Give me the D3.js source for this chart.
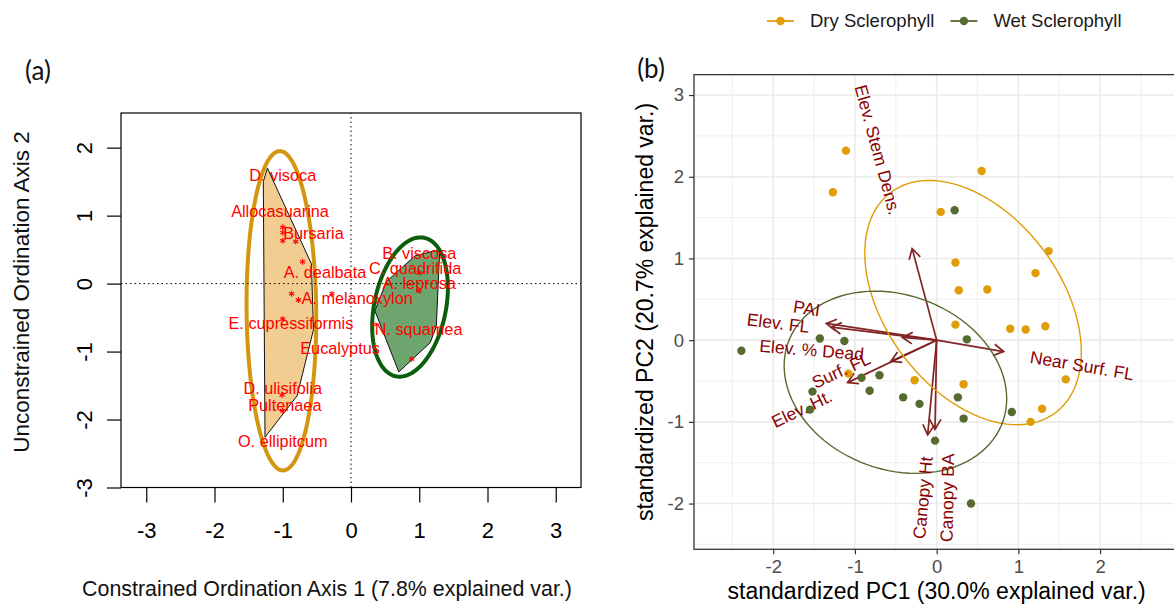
<!DOCTYPE html>
<html>
<head>
<meta charset="utf-8">
<script src="https://cdn.jsdelivr.net/npm/d3@7"></script>
<style>
  body { margin: 0; background: #fff; }
  svg { display: block; }
</style>
</head>
<body>
<script>
// ---------- panel (a): constrained ordination ----------
const speciesLabels = [
  ["D. visoca", -1.0, 1.59],
  ["Allocasuarina", -1.04, 1.07],
  ["Bursaria", -0.55, 0.74],
  ["A. dealbata", -0.38, 0.17],
  ["A. melanoxylon", 0.09, -0.21],
  ["E. cupressiformis", -0.88, -0.58],
  ["Eucalyptus", -0.16, -0.95],
  ["D. ulisifolia", -1.0, -1.54],
  ["Pultenaea", -0.97, -1.79],
  ["O. ellipitcum", -1.0, -2.32],
  ["B. viscosa", 1.0, 0.44],
  ["C. quadrifida", 0.94, 0.22],
  ["A. leprosa", 1.0, 0.0],
  ["N. squamea", 0.99, -0.67]
];
const speciesStars = [
  [-1.0, 0.83], [-1.0, 0.75], [-1.0, 0.63], [-0.81, 0.62], [-0.71, 0.32],
  [-0.87, -0.15], [-0.77, -0.24], [-0.28, -0.15], [-1.0, -0.52],
  [-1.01, -1.64], [-1.0, -1.87],
  [1.0, 0.16], [1.0, -0.11], [0.33, -0.6], [0.89, -1.11]
];
const dryHull = [[-1.225, 1.70], [-0.58, 0.29], [-0.55, -0.68], [-0.79, -1.65], [-1.26, -2.26], [-1.285, 1.50]];
const wetHull = [[0.52, 0.03], [0.94, 0.41], [1.30, 0.50], [1.25, -0.63], [1.16, -0.87], [0.70, -1.30], [0.35, -0.40]];
const ordEllipseCentre = [[-1.02, -0.40], [0.865, -0.345]];
const ordEllipseRadii = [[2.35, 0.51], [1.04, 0.525]];   // semi-major, semi-minor
const ordEllipseTilt = [-0.6, 11.5];                      // degrees from vertical
const ordTicks = [-3, -2, -1, 0, 1, 2, 3];

// ---------- panel (b): PCA biplot ----------
const groups = ["Dry Sclerophyll", "Wet Sclerophyll"];
const dryPC = [
  [-1.11, 2.32], [-1.27, 1.81], [0.55, 2.07], [0.05, 1.57], [1.37, 1.09],
  [0.23, 0.95], [1.21, 0.82], [0.27, 0.61], [0.62, 0.62], [0.23, 0.19],
  [0.90, 0.14], [1.09, 0.13], [1.33, 0.17], [1.58, -0.48], [-1.08, -0.41],
  [-0.27, -0.49], [0.33, -0.54], [1.29, -0.84], [1.15, -1.0]
];
const wetPC = [
  [0.22, 1.59], [-2.39, -0.13], [-1.43, 0.02], [-1.13, -0.01], [0.37, 0.01],
  [-0.92, -0.46], [-0.70, -0.43], [-0.82, -0.62], [-1.52, -0.63], [-1.55, -0.85],
  [-0.41, -0.70], [-0.21, -0.78], [0.26, -0.70], [0.33, -0.96], [0.92, -0.88],
  [-0.02, -1.23], [0.42, -2.0]
];
const varNames = ["Elev. Stem Dens.", "PAI", "Elev. FL", "Elev. % Dead", "Surf. FL",
  "Elev. Ht.", "Near Surf. FL", "Canopy Ht", "Canopy BA"];
const varLoadings = [
  [-0.30, 1.12], [-1.35, 0.205], [-1.29, 0.16], [-0.42, 0.035], [-0.56, -0.26],
  [-1.09, -0.52], [0.82, -0.14], [-0.11, -1.16], [-0.02, -1.09]
];
// where each variable name sits (label centre, PC units)
const varLabelAt = [
  [-0.72, 2.33], [-1.59, 0.39], [-1.94, 0.21], [-1.53, -0.12], [-1.17, -0.37],
  [-1.65, -0.84], [1.78, -0.31], [-0.17, -1.93], [0.13, -1.93]
];
const pcTicksX = [-2, -1, 0, 1, 2];
const pcTicksY = [-2, -1, 0, 1, 2, 3];

// ---------- styles ----------
const groupColour = ["#E19D07", "#556B2F"];
const sans = "'Liberation Sans', Arial, sans-serif";

const svg = d3.select("body").append("svg")
  .attr("width", 1174).attr("height", 606)
  .style("font-family", sans);

// ================= (a) =================
const xA = d3.scaleLinear().domain([-3.37, 3.37]).range([121, 581]);
const yA = d3.scaleLinear().domain([-3, 2.51]).range([487.5, 113]);
const lineA = d3.line().x(d => xA(d[0])).y(d => yA(d[1]));

function tiltedEllipse(c, r, tilt, n = 160) {
  const p = tilt * Math.PI / 180;
  const u = [Math.sin(p), Math.cos(p)], v = [Math.cos(p), -Math.sin(p)];
  return d3.range(n + 1).map(i => {
    const t = 2 * Math.PI * i / n;
    return [c[0] + r[0] * Math.cos(t) * u[0] + r[1] * Math.sin(t) * v[0],
            c[1] + r[0] * Math.cos(t) * u[1] + r[1] * Math.sin(t) * v[1]];
  });
}

const a = svg.append("g");

a.append("path").datum(dryHull)
  .attr("d", d => lineA(d) + "Z")
  .attr("fill", "#F2CD91").attr("stroke", "#111").attr("stroke-width", 1);
a.append("path").datum(wetHull)
  .attr("d", d => lineA(d) + "Z")
  .attr("fill", "#6EA56E").attr("stroke", "#111").attr("stroke-width", 1);

a.selectAll(".ord-ell")
  .data(ordEllipseCentre)
  .join("path")
    .attr("class", "ord-ell")
    .attr("d", (c, i) => lineA(tiltedEllipse(c, ordEllipseRadii[i], ordEllipseTilt[i])))
    .attr("fill", "none")
    .attr("stroke", (d, i) => ["#D4950F", "#0B5E0B"][i])
    .attr("stroke-width", 4);

// dotted zero lines
a.append("line")
  .attr("x1", xA(0)).attr("x2", xA(0)).attr("y1", yA(-3)).attr("y2", yA(2.51))
  .attr("stroke", "#000").attr("stroke-width", 1).attr("stroke-dasharray", "1.5,3");
a.append("line")
  .attr("x1", xA(-3.37)).attr("x2", xA(3.37)).attr("y1", yA(0)).attr("y2", yA(0))
  .attr("stroke", "#000").attr("stroke-width", 1).attr("stroke-dasharray", "1.5,3");

// species asterisks
const star = a.selectAll(".star")
  .data(speciesStars)
  .join("g")
    .attr("class", "star")
    .attr("transform", d => `translate(${xA(d[0])},${yA(d[1])})`);
[90, 30, 150].forEach(ang => {
  const r = ang * Math.PI / 180;
  star.append("line")
    .attr("x1", -3 * Math.cos(r)).attr("y1", -3 * Math.sin(r))
    .attr("x2", 3 * Math.cos(r)).attr("y2", 3 * Math.sin(r))
    .attr("stroke", "#FF0000").attr("stroke-width", 1.1);
});

a.selectAll(".sp")
  .data(speciesLabels)
  .join("text")
    .attr("class", "sp")
    .attr("x", d => xA(d[1]))
    .attr("y", d => yA(d[2]))
    .attr("dy", "0.35em")
    .attr("text-anchor", "middle")
    .attr("font-size", 16.3)
    .attr("fill", "#FF0000")
    .text(d => d[0]);

a.append("rect")
  .attr("x", xA(-3.37)).attr("y", yA(2.51))
  .attr("width", xA(3.37) - xA(-3.37)).attr("height", yA(-3) - yA(2.51))
  .attr("fill", "none").attr("stroke", "#000").attr("stroke-width", 1.2);

const axA = a.append("g")
  .attr("transform", `translate(0,${yA(-3)})`)
  .call(d3.axisBottom(xA).tickValues(ordTicks).tickSize(15).tickPadding(20).tickFormat(d => String(d)));
const ayA = a.append("g")
  .attr("transform", `translate(${xA(-3.37)},0)`)
  .call(d3.axisLeft(yA).tickValues(ordTicks.slice(0, 6)).tickSize(14).tickFormat(d => String(d)));
[axA, ayA].forEach(g => {
  g.select(".domain").remove();
  g.selectAll("line").attr("stroke", "#000").attr("stroke-width", 1.2);
  g.selectAll("text").attr("fill", "#000").attr("font-size", 22).attr("font-family", sans);
});
ayA.selectAll("text")
  .attr("x", 0).attr("dy", "0.35em")
  .attr("text-anchor", "middle")
  .attr("transform", "translate(-37,0) rotate(-90)");

a.append("text")
  .attr("x", 327).attr("y", 596)
  .attr("text-anchor", "middle").attr("font-size", 21.4).attr("fill", "#111")
  .text("Constrained Ordination Axis 1 (7.8% explained var.)");
a.append("text")
  .attr("transform", `translate(29,292) rotate(-90)`)
  .attr("text-anchor", "middle").attr("font-size", 22.5).attr("fill", "#111")
  .text("Unconstrained Ordination Axis 2");
a.append("text")
  .attr("x", 38).attr("y", 80)
  .attr("text-anchor", "middle").attr("font-size", 26).attr("fill", "#111")
  .attr("font-family", "Lato, 'Open Sans', sans-serif")
  .text("(a)");

// ================= (b) =================
const xB = d3.scaleLinear().domain([-2.97, 2.97]).range([694, 694 + 5.94 * 81.7]);
const yB = d3.scaleLinear().domain([-2.56, 3.25]).range([549.3, 549.3 - 5.81 * 81.7]);
const lineB = d3.line().x(d => xB(d[0])).y(d => yB(d[1]));

const b = svg.append("g");
b.append("clipPath").attr("id", "clipB")
  .append("rect")
    .attr("x", xB.range()[0]).attr("y", yB.range()[1])
    .attr("width", xB.range()[1] - xB.range()[0]).attr("height", yB.range()[0] - yB.range()[1]);

const panel = b.append("g").attr("clip-path", "url(#clipB)");

const minorX = d3.range(-2.5, 3, 1), minorY = d3.range(-2.5, 3, 1);
const majorX = d3.range(-2, 3), majorY = d3.range(-2, 4);
panel.selectAll(".gminx").data(minorX).join("line")
  .attr("x1", d => xB(d)).attr("x2", d => xB(d)).attr("y1", yB.range()[0]).attr("y2", yB.range()[1])
  .attr("stroke", "#EBEBEB").attr("stroke-width", 0.8);
panel.selectAll(".gminy").data(minorY).join("line")
  .attr("y1", d => yB(d)).attr("y2", d => yB(d)).attr("x1", xB.range()[0]).attr("x2", xB.range()[1])
  .attr("stroke", "#EBEBEB").attr("stroke-width", 0.8);
panel.selectAll(".gmajx").data(majorX).join("line")
  .attr("x1", d => xB(d)).attr("x2", d => xB(d)).attr("y1", yB.range()[0]).attr("y2", yB.range()[1])
  .attr("stroke", "#EBEBEB").attr("stroke-width", 1.6);
panel.selectAll(".gmajy").data(majorY).join("line")
  .attr("y1", d => yB(d)).attr("y2", d => yB(d)).attr("x1", xB.range()[0]).attr("x2", xB.range()[1])
  .attr("stroke", "#EBEBEB").attr("stroke-width", 1.6);

// variable arrows
const arrowCol = "#832424";
const arr = panel.selectAll(".arrow")
  .data(varLoadings)
  .join("g").attr("class", "arrow");
arr.append("line")
  .attr("x1", xB(0)).attr("y1", yB(0))
  .attr("x2", d => xB(d[0])).attr("y2", d => yB(d[1]))
  .attr("stroke", arrowCol).attr("stroke-width", 1.7);
arr.append("path")
  .attr("d", d => {
    const x1 = xB(d[0]), y1 = yB(d[1]);
    const ang = Math.atan2(y1 - yB(0), x1 - xB(0));
    const L = 11.5, s = Math.PI / 6;
    const p1 = [x1 - L * Math.cos(ang - s), y1 - L * Math.sin(ang - s)];
    const p2 = [x1 - L * Math.cos(ang + s), y1 - L * Math.sin(ang + s)];
    return `M${p1}L${x1},${y1}L${p2}`;
  })
  .attr("fill", "none").attr("stroke", arrowCol).attr("stroke-width", 1.7);

// points
const pcData = [dryPC, wetPC];
pcData.forEach((pts, gi) => {
  panel.selectAll(".pt" + gi)
    .data(pts)
    .join("circle")
      .attr("cx", d => xB(d[0])).attr("cy", d => yB(d[1]))
      .attr("r", 4.2).attr("fill", groupColour[gi]);
});

// 68% normal data ellipses per group
function dataEllipse(pts, prob = 0.68, n = 100) {
  const N = pts.length;
  const mx = d3.mean(pts, d => d[0]), my = d3.mean(pts, d => d[1]);
  const sxx = d3.sum(pts, d => (d[0] - mx) ** 2) / (N - 1);
  const syy = d3.sum(pts, d => (d[1] - my) ** 2) / (N - 1);
  const sxy = d3.sum(pts, d => (d[0] - mx) * (d[1] - my)) / (N - 1);
  const r11 = Math.sqrt(sxx), r12 = sxy / r11, r22 = Math.sqrt(syy - r12 * r12);
  const ed = Math.sqrt(-2 * Math.log(1 - prob));
  return d3.range(n + 1).map(i => {
    const t = 2 * Math.PI * i / n, c = Math.cos(t), s = Math.sin(t);
    return [mx + ed * c * r11, my + ed * (c * r12 + s * r22)];
  });
}
pcData.forEach((pts, gi) => {
  panel.append("path")
    .attr("d", lineB(dataEllipse(pts)))
    .attr("fill", "none").attr("stroke", groupColour[gi]).attr("stroke-width", 1.4);
});

// variable labels, rotated along their loading direction
panel.selectAll(".vlab")
  .data(varLabelAt)
  .join("text")
    .attr("class", "vlab")
    .attr("font-size", 17.5)
    .attr("fill", "#8B0000")
    .attr("text-anchor", "middle")
    .attr("dy", "0.35em")
    .attr("transform", (d, i) => {
      const l = varLoadings[i];
      const ang = Math.atan(l[1] / l[0]) * 180 / Math.PI;
      return `translate(${xB(d[0])},${yB(d[1])}) rotate(${-ang})`;
    })
    .text((d, i) => varNames[i]);

b.append("rect")
  .attr("x", xB.range()[0]).attr("y", yB.range()[1])
  .attr("width", xB.range()[1] - xB.range()[0]).attr("height", yB.range()[0] - yB.range()[1])
  .attr("fill", "none").attr("stroke", "#333333").attr("stroke-width", 1.3);

const axB = b.append("g")
  .attr("transform", `translate(0,${yB.range()[0]})`)
  .call(d3.axisBottom(xB).tickValues(pcTicksX).tickSize(5).tickPadding(6).tickFormat(d => String(d)));
const ayB = b.append("g")
  .attr("transform", `translate(${xB.range()[0]},0)`)
  .call(d3.axisLeft(yB).tickValues(pcTicksY).tickSize(5).tickPadding(5).tickFormat(d => String(d)));
[axB, ayB].forEach(g => {
  g.select(".domain").remove();
  g.selectAll("line").attr("stroke", "#333333").attr("stroke-width", 1.2);
  g.selectAll("text").attr("fill", "#4D4D4D").attr("font-size", 18.5).attr("font-family", sans);
});

b.append("text")
  .attr("x", (xB.range()[0] + xB.range()[1]) / 2).attr("y", 599)
  .attr("text-anchor", "middle").attr("font-size", 23).attr("fill", "#000")
  .text("standardized PC1 (30.0% explained var.)");
b.append("text")
  .attr("transform", `translate(653,${(yB.range()[0] + yB.range()[1]) / 2}) rotate(-90)`)
  .attr("text-anchor", "middle").attr("font-size", 23).attr("fill", "#000")
  .text("standardized PC2 (20.7% explained var.)");
b.append("text")
  .attr("x", 651).attr("y", 78)
  .attr("text-anchor", "middle").attr("font-size", 26).attr("fill", "#111")
  .attr("font-family", "Lato, 'Open Sans', sans-serif")
  .text("(b)");

// legend
const legend = b.append("g").attr("transform", "translate(767,21)");
let cursor = 0;
groups.forEach((name, gi) => {
  const item = legend.append("g").attr("transform", `translate(${cursor},0)`);
  item.append("line").attr("x1", 0).attr("x2", 27).attr("y1", 0).attr("y2", 0)
    .attr("stroke", groupColour[gi]).attr("stroke-width", 1.8);
  item.append("circle").attr("cx", 13.5).attr("cy", 0).attr("r", 4.2).attr("fill", groupColour[gi]);
  const t = item.append("text").attr("x", 43).attr("dy", "0.35em")
    .attr("font-size", 18.5).attr("fill", "#1A1A1A").text(name);
  cursor += 43 + t.node().getComputedTextLength() + 16;
});
</script>
</body>
</html>
